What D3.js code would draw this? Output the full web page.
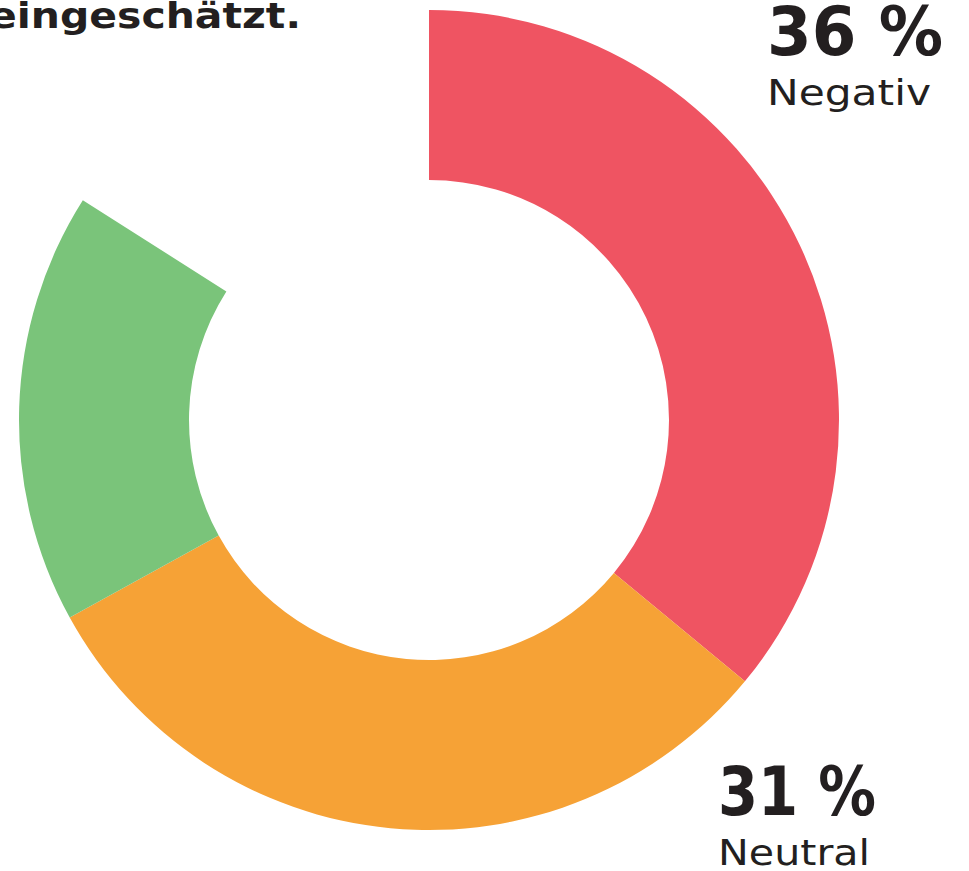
<!DOCTYPE html>
<html>
<head>
<meta charset="utf-8">
<script src="https://cdn.jsdelivr.net/npm/d3@7"></script>
<style>
  body { margin: 0; background: #fff; }
  svg { display: block; }
  text { font-family: "DejaVu Sans", "Open Sans", sans-serif; fill: #231f20; }
</style>
</head>
<body>
<svg id="chart"></svg>
<script>
const categories = ["Negativ", "Neutral", "Positiv", "Keine Angabe"];
const values = [36, 31, 17, 16];
const colors = ["#ef5462", "#f6a236", "#7ac47a", "none"];
const title = "eingeschätzt.";

function drawDonut(svgId, width, height) {
    const cx = 429, cy = 420;
    const outer = 410, inner = 240;

    const svg = d3.select(`#${svgId}`)
        .attr("width", width)
        .attr("height", height);

    const pie = d3.pie().sort(null).value(d => d.value);
    const arcs = pie(categories.map((c, i) => ({ name: c, value: values[i], color: colors[i] })));

    const arc = d3.arc()
        .innerRadius(inner)
        .outerRadius(outer);

    const g = svg.append("g")
        .attr("transform", `translate(${cx}, ${cy})`);

    g.selectAll("path")
        .data(arcs)
        .join("path")
        .attr("d", arc)
        .attr("fill", d => d.data.color);

    // title, cut off at the left edge like in the source
    svg.append("text")
        .attr("x", -11)
        .attr("y", 28)
        .attr("font-size", 35)
        .attr("font-weight", 700)
        .attr("textLength", 312)
        .attr("lengthAdjust", "spacingAndGlyphs")
        .text(title);

    // labels: Negativ (top right), Neutral (bottom right)
    const labels = [
        { i: 0, x: 767, yNum: 55, yName: 105, numW: 176, nameW: 164 },
        { i: 1, x: 718, yNum: 815, yName: 865, numW: 158, nameW: 152 }
    ];

    labels.forEach(l => {
        svg.append("text")
            .attr("x", l.x)
            .attr("y", l.yNum)
            .attr("font-size", 68)
            .attr("font-weight", 700)
            .attr("textLength", l.numW)
            .attr("lengthAdjust", "spacingAndGlyphs")
            .text(`${values[l.i]} %`);
        svg.append("text")
            .attr("x", l.x)
            .attr("y", l.yName)
            .attr("font-size", 36)
            .attr("textLength", l.nameW)
            .attr("lengthAdjust", "spacingAndGlyphs")
            .text(categories[l.i]);
    });
}

drawDonut("chart", 969, 871);
</script>
</body>
</html>
